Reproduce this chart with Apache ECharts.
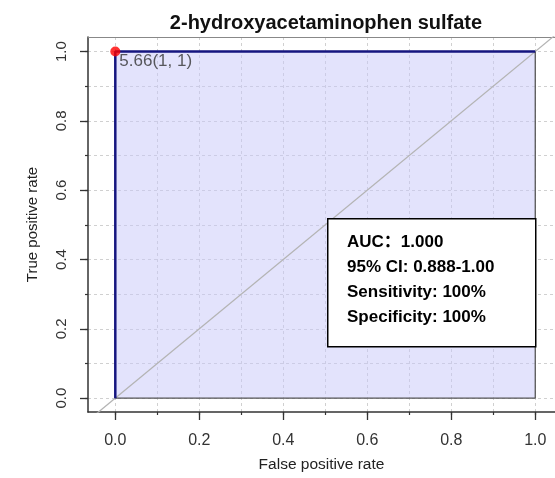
<!DOCTYPE html>
<html lang="en">
<head>
<meta charset="UTF-8">
<title>ROC</title>
<script src="https://cdn.jsdelivr.net/npm/echarts@6/dist/echarts.min.js"></script>
<style>
html, body { margin: 0; padding: 0; background: #fff; }
#roc { width: 555px; height: 478px; }
</style>
</head>
<body>
<div id="roc"></div>
<script>
// data
var chartTitle = '2-hydroxyacetaminophen sulfate';
var fpr = [0, 0, 1];
var tpr = [0, 1, 1];
var polyEdgeX = [1, 1, 0];
var polyEdgeY = [1, 0, 0];
var diagX = [-0.2, 1.2];
var diagY = [-0.2, 1.2];
var bestPoint = [0, 1];
var bestLabel = '5.66(1, 1)';
var majorTicks = [0, 0.2, 0.4, 0.6, 0.8, 1.0];
var minorTicks = [0, 0.1, 0.2, 0.3, 0.4, 0.5, 0.6, 0.7, 0.8, 0.9, 1.0];
var infoLines = ['AUC：1.000', '95% CI: 0.888-1.00', 'Sensitivity: 100%', 'Specificity: 100%'];

function pairs(xs, ys) {
	return xs.map(function (x, i) { return [x, ys[i]]; });
}

var font = 'Liberation Sans';
var fmt = function (v) { return v.toFixed(1); };

var myChart = echarts.init(document.getElementById('roc'), null, { renderer: 'canvas' });

function mainAxis(pos, min, max, label, extra) {
	return Object.assign({
		type: 'value', position: pos, min: min, max: max,
		axisLine: { show: true, onZero: false, lineStyle: { color: '#333', width: 1.5 } },
		axisTick: { show: true, customValues: majorTicks, length: 8, lineStyle: { color: '#333', width: 1.3 } },
		axisLabel: Object.assign({ customValues: majorTicks, formatter: fmt, color: '#333', fontFamily: font }, label),
		splitLine: { show: false }
	}, extra);
}
function gridAxis(pos, min, max) {
	return {
		type: 'value', position: pos, min: min, max: max,
		axisLine: { show: false, onZero: false },
		axisTick: { show: true, customValues: minorTicks, length: 3, lineStyle: { color: '#333', width: 1.2 } },
		axisLabel: { show: false },
		splitLine: { show: true, lineStyle: { color: '#d0d0d0', type: [3, 3], width: 1 } }
	};
}

var option = {
	backgroundColor: '#fff',
	animation: false,
	title: {
		text: chartTitle, left: 321, top: 8, textAlign: 'center',
		textStyle: { fontFamily: font, fontSize: 20, fontWeight: 'bold', color: '#111' }
	},
	grid: { left: 88, top: 37, width: 467, height: 377 },
	xAxis: [
		mainAxis('bottom', -0.065, 1.047, { fontSize: 16, margin: 21 }, {
			name: 'False positive rate', nameLocation: 'middle', nameGap: 45,
			nameTextStyle: { fontFamily: font, fontSize: 15.5, color: '#222' }
		}),
		gridAxis('bottom', -0.065, 1.047),
		{
			type: 'value', position: 'top', min: -0.065, max: 1.047,
			axisLine: { show: true, onZero: false, lineStyle: { color: '#888', width: 1 } },
			axisTick: { show: false }, axisLabel: { show: false }, splitLine: { show: false }
		}
	],
	yAxis: [
		mainAxis('left', -0.04, 1.042, { fontSize: 15, rotate: 90, margin: 19 }, {
			name: 'True positive rate', nameLocation: 'middle', nameGap: 48,
			nameTextStyle: { fontFamily: font, fontSize: 15, color: '#222' }
		}),
		gridAxis('left', -0.04, 1.042)
	],
	series: [
		{
			type: 'line', xAxisIndex: 1, yAxisIndex: 1, data: pairs(diagX, diagY),
			symbol: 'none', clip: true, silent: true,
			lineStyle: { color: '#b4b4b4', width: 1.3 }, z: 3
		},
		{
			type: 'line', xAxisIndex: 0, yAxisIndex: 0, data: pairs(fpr, tpr),
			symbol: 'none', silent: true,
			lineStyle: { width: 0 },
			areaStyle: { color: 'rgba(200, 200, 250, 0.72)', origin: 0 }, z: 2
		},
		{
			type: 'line', xAxisIndex: 0, yAxisIndex: 0, data: pairs(polyEdgeX, polyEdgeY),
			symbol: 'none', silent: true,
			lineStyle: { color: '#555', width: 1.3 }, z: 4
		},
		{
			type: 'line', xAxisIndex: 0, yAxisIndex: 0, data: pairs(fpr, tpr),
			symbol: 'none', silent: true,
			lineStyle: { color: '#15157f', width: 2.5 }, z: 5
		},
		{
			type: 'scatter', xAxisIndex: 0, yAxisIndex: 0, data: [bestPoint],
			symbolSize: 10, itemStyle: { color: '#f00' }, z: 6,
			label: {
				show: true, formatter: bestLabel, position: 'right', distance: 0, offset: [-1, 10],
				fontFamily: font, fontSize: 17, color: '#333'
			}
		}
	],
	graphic: [
		{
			type: 'rect', left: 327, top: 218, z: 100,
			shape: { width: 208, height: 128 },
			style: { fill: '#fff', stroke: '#000', lineWidth: 1.5 }
		},
		{
			type: 'text', left: 347, top: 230, z: 101,
			style: {
				text: infoLines.join('\n'), fill: '#000',
				font: 'bold 17px "Liberation Sans", "Noto Sans CJK SC"', lineHeight: 25
			}
		}
	]
};

myChart.setOption(option, true);
</script>
</body>
</html>
